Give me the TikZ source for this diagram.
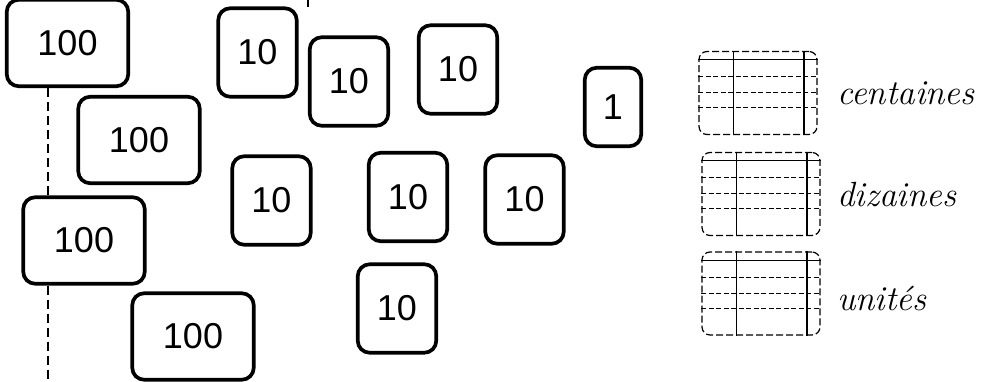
\documentclass[tikz,border=0pt]{standalone}
\usepackage{fontspec}
\newfontfamily\cardfont{Liberation Sans}
\usetikzlibrary{positioning,calc}

\begin{document}
\begin{tikzpicture}[x=1pt,y=-1pt,
  card/.style={draw,line width=3.7pt,rounded corners=12pt,inner sep=0pt,font=\cardfont\fontsize{36}{36}\selectfont},
  hundred/.style={card,minimum width=121.5pt,minimum height=86.5pt},
  ten/.style={card,minimum width=78.5pt,minimum height=88.5pt},
  unit/.style={card,minimum width=56.5pt,minimum height=78.5pt},
  tableau/.style={draw,line width=1.2pt,dash pattern=on 7pt off 3pt,rounded corners=8pt,minimum width=118pt,minimum height=83pt,inner sep=0pt},
  rule/.style={line width=0.8pt,dash pattern=on 5pt off 2.5pt},
  cut/.style={line width=1.2pt,dash pattern=on 9pt off 5pt},
  cursive/.style={font=\itshape\fontsize{35}{35}\selectfont,inner sep=0pt}]
\useasboundingbox (0,0) rectangle (982,382);
% centaines
\node[hundred] (h1) at (67.5,43) {100};
\node[hundred] (h2) at (139,140) {100};
\node[hundred] (h3) at (84,240.5) {100};
\node[hundred] (h4) at (193,336.5) {100};
% dizaines
\node[ten] (t1) at (257.5,52.5) {10};
\node[ten] (t2) at (349,81.5) {10};
\node[ten] (t3) at (458,69.5) {10};
\node[ten] (t4) at (271.5,200.5) {10};
\node[ten] (t5) at (408,197) {10};
\node[ten] (t6) at (524.5,199.5) {10};
\node[ten] (t7) at (397,308.5) {10};
% unites
\node[unit] (u1) at (613,107) {1};
% fold line
\coordinate (foot) at (48,382);
\draw[cut] (h1.south -| foot) -- (h3.north -| foot);
\draw[cut] (h3.south -| foot) -- (foot);
\coordinate (tick) at (308,0);
\draw[line width=2.5pt] (tick) -- ++(0,7);
% tableaux
\foreach \p/\x/\y/\txt/\ty in {p1/758/93/centaines/105,p2/761/194/dizaines/207,p3/761/293.5/unités/310}{
  \node[tableau] (\p) at (\x,\y) {};
  \draw[line width=1.5pt] ($(\p.north west)+(35,0)$) -- ($(\p.south west)+(35,0)$);
  \draw[line width=2.2pt] ($(\p.north east)+(-14,0)$) -- ($(\p.south east)+(-14,0)$);
  \draw[line width=1.2pt] ($(\p.north west)+(0,9)$) -- ($(\p.north east)+(0,9)$);
  \foreach \d in {26,42,57}
    \draw[rule] ($(\p.north west)+(0,\d)$) -- ($(\p.north east)+(0,\d)$);
  \node[cursive,anchor=base west] (l\p) at (837,\ty) {\txt};
}
\end{tikzpicture}
\end{document}
